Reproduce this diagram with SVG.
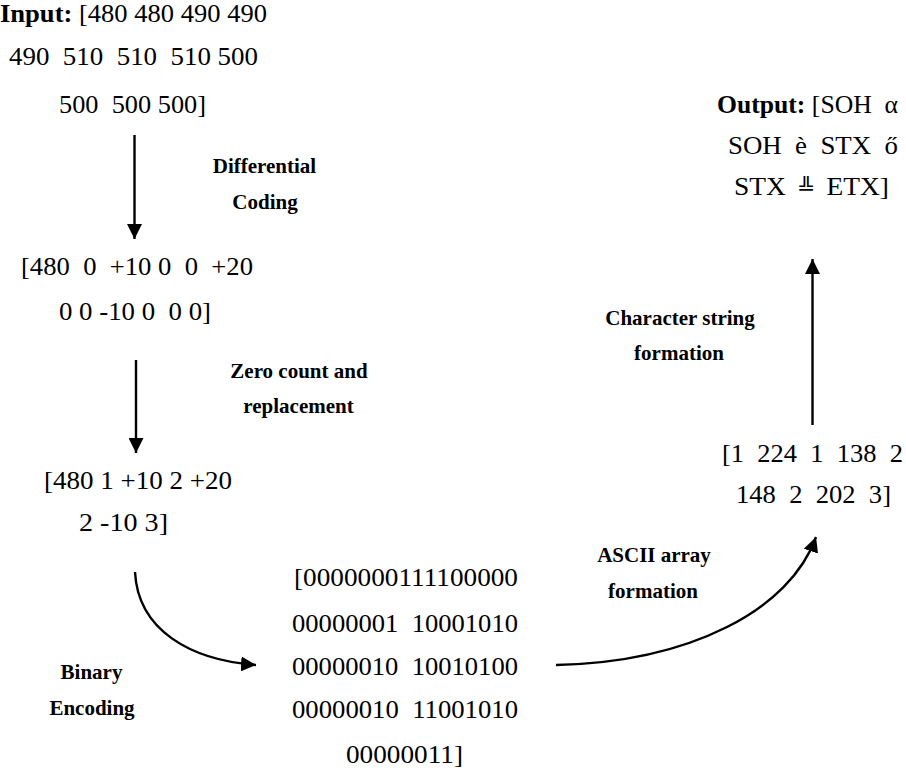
<svg xmlns="http://www.w3.org/2000/svg" width="906" height="774" viewBox="0 0 906 774">
<style>
text{font-family:"Liberation Serif","Times New Roman",serif;fill:#000}
.t{font-size:25px}
.b{font-size:21px;font-weight:bold;text-anchor:middle}
.c{stroke:#000;stroke-width:2.4;fill:none}
</style>
<defs>
<marker id="ah" viewBox="0 0 10 10" refX="10" refY="5" markerWidth="15" markerHeight="15" markerUnits="userSpaceOnUse" orient="auto">
<path d="M0,0 L10,5 L0,10 Z" fill="#000"/>
</marker>
</defs>
<rect width="906" height="774" fill="#fff"/>
<g id="input">
<text class="t" x="0" y="22" textLength="267" lengthAdjust="spacingAndGlyphs"><tspan font-weight="bold">Input:</tspan> [480 480 490 490</text>
<text class="t" x="9" y="65" xml:space="preserve" textLength="249" lengthAdjust="spacingAndGlyphs">490  510  510  510 500</text>
<text class="t" x="59" y="113" xml:space="preserve" textLength="147" lengthAdjust="spacingAndGlyphs">500  500 500]</text>
</g>
<g id="diff">
<text class="t" x="21" y="275" xml:space="preserve" textLength="232" lengthAdjust="spacingAndGlyphs">[480  0  +10 0  0  +20</text>
<text class="t" x="59" y="320" xml:space="preserve" textLength="152" lengthAdjust="spacingAndGlyphs">0 0 -10 0  0 0]</text>
</g>
<g id="zero">
<text class="t" x="44" y="489" xml:space="preserve" textLength="188" lengthAdjust="spacingAndGlyphs">[480 1 +10 2 +20</text>
<text class="t" x="79" y="531" xml:space="preserve" textLength="89" lengthAdjust="spacingAndGlyphs">2 -10 3]</text>
</g>
<g id="binary">
<text class="t" x="294" y="586" textLength="224" lengthAdjust="spacingAndGlyphs">[0000000111100000</text>
<text class="t" x="292" y="632" xml:space="preserve" textLength="226" lengthAdjust="spacingAndGlyphs">00000001  10001010</text>
<text class="t" x="292" y="675" xml:space="preserve" textLength="226" lengthAdjust="spacingAndGlyphs">00000010  10010100</text>
<text class="t" x="292" y="718" xml:space="preserve" textLength="226" lengthAdjust="spacingAndGlyphs">00000010  11001010</text>
<text class="t" x="346" y="763" textLength="117" lengthAdjust="spacingAndGlyphs">00000011]</text>
</g>
<g id="ascii">
<text class="t" x="722" y="462" xml:space="preserve" textLength="181" lengthAdjust="spacingAndGlyphs">[1  224  1  138  2</text>
<text class="t" x="736" y="503" xml:space="preserve" textLength="155" lengthAdjust="spacingAndGlyphs">148  2  202  3]</text>
</g>
<g id="output">
<text class="t" x="717" y="113" xml:space="preserve" textLength="181" lengthAdjust="spacingAndGlyphs"><tspan font-weight="bold">Output:</tspan> [SOH  α</text>
<text class="t" x="728" y="154" xml:space="preserve" textLength="170" lengthAdjust="spacingAndGlyphs">SOH  è  STX  ő</text>
<text class="t" x="734" y="195" xml:space="preserve" textLength="155" lengthAdjust="spacingAndGlyphs">STX  <tspan font-family="DejaVu Sans" font-size="20">╩</tspan>  ETX]</text>
</g>
<g id="labels">
<text class="b" x="264.5" y="173">Differential</text>
<text class="b" x="265" y="209">Coding</text>
<text class="b" x="299" y="378">Zero count and</text>
<text class="b" x="298.5" y="413">replacement</text>
<text class="b" x="91.5" y="679">Binary</text>
<text class="b" x="92" y="715">Encoding</text>
<text class="b" x="654" y="562">ASCII array</text>
<text class="b" x="653" y="598">formation</text>
<text class="b" x="680" y="325">Character string</text>
<text class="b" x="679" y="360">formation</text>
</g>
<g id="connectors">
<line class="c" x1="134.5" y1="135" x2="134.5" y2="239" marker-end="url(#ah)"/>
<line class="c" x1="136" y1="360" x2="136" y2="453" marker-end="url(#ah)"/>
<line class="c" x1="812.5" y1="425" x2="812.5" y2="259" marker-end="url(#ah)"/>
<path class="c" d="M135,572 C138,630 190,660 256,665" marker-end="url(#ah)"/>
<path class="c" d="M556,665 C690,662 790,610 816,537" marker-end="url(#ah)"/>
</g>
</svg>
